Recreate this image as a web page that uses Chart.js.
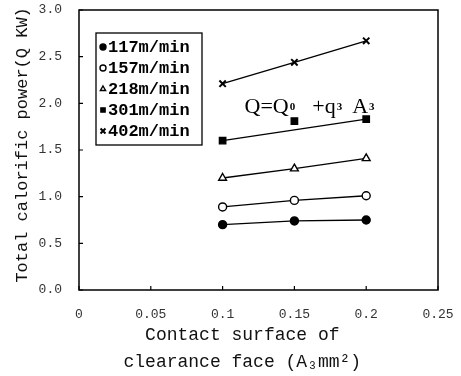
<!DOCTYPE html>
<html>
<head>
<meta charset="utf-8">
<script src="https://cdn.jsdelivr.net/npm/chart.js@4.4.0/dist/chart.umd.min.js"></script>
<style>
  html, body { margin: 0; padding: 0; background: #fff; }
  #wrap { width: 461px; height: 376px; }
</style>
</head>
<body>
<div id="wrap"><canvas id="chart"></canvas></div>
<script>
// contact surface of clearance face (mm^2)
const surfaces = [0.1, 0.15, 0.2];
const speeds = ['117m/min', '157m/min', '218m/min', '301m/min', '402m/min'];

// total calorific power (kW) per cutting speed
const power117 = [0.70, 0.74, 0.75];
const power157 = [0.89, 0.96, 1.01];
const power218 = [1.20, 1.30, 1.41];
const power301 = [1.60, 1.81, 1.83];
const power402 = [2.21, 2.44, 2.67];

// the 301 m/min line is a fit that skips the middle point
const fit301X = [0.1, 0.2];
const fit301Y = [1.60, 1.83];

const xTickLabels = ['0', '0.05', '0.1', '0.15', '0.2', '0.25'];
const yTickLabels = ['0.0', '0.5', '1.0', '1.5', '2.0', '2.5', '3.0'];

const toPoints = (xs, ys) => xs.map((x, i) => ({ x: x, y: ys[i] }));

function series(label, values, style, fill, radius, showLine) {
    return {
        label: label,
        data: toPoints(surfaces, values),
        borderColor: '#000',
        borderWidth: 1.3,
        pointStyle: style,
        pointRadius: radius,
        pointBorderWidth: style === 'crossRot' ? 2 : 1.4,
        pointBackgroundColor: fill,
        pointBorderColor: '#000',
        showLine: showLine,
        inLegend: true
    };
}

const datasets = [
    series(speeds[0], power117, 'circle', '#000', 4, true),
    series(speeds[1], power157, 'circle', '#fff', 4, true),
    series(speeds[2], power218, 'triangle', '#fff', 4.5, true),
    series(speeds[3], power301, 'rect', '#000', 4.5, false),
    series(speeds[4], power402, 'crossRot', '#000', 4.5, true),
    {
        label: 'fit301',
        data: toPoints(fit301X, fit301Y),
        borderColor: '#000',
        borderWidth: 1.3,
        pointRadius: 0,
        inLegend: false
    }
];

// drop the extra room chart.js keeps for edge tick labels
function noEdgePadding(scale) {
    scale.paddingTop = 0;
    scale.paddingBottom = 0;
    scale.paddingLeft = 0;
    scale.paddingRight = 0;
}

// box round the plot, plus short inward ticks
const framePlugin = {
    id: 'frame',
    afterDraw(chart) {
        const ctx = chart.ctx;
        const a = chart.chartArea;
        ctx.save();
        ctx.strokeStyle = '#000';
        ctx.lineWidth = 1.5;
        ctx.strokeRect(a.left, a.top, a.right - a.left, a.bottom - a.top);
        ctx.lineWidth = 1.2;
        const xs = chart.scales.x, ys = chart.scales.y;
        ctx.beginPath();
        xs.ticks.forEach(t => {
            const px = xs.getPixelForValue(t.value);
            ctx.moveTo(px, a.bottom);
            ctx.lineTo(px, a.bottom - 4);
        });
        ys.ticks.forEach(t => {
            const py = ys.getPixelForValue(t.value);
            ctx.moveTo(a.left, py);
            ctx.lineTo(a.left + 4, py);
        });
        ctx.stroke();
        ctx.restore();
    }
};

// legend box inside the plot
const legendBoxPlugin = {
    id: 'legendBox',
    afterDraw(chart) {
        const ctx = chart.ctx;
        const a = chart.chartArea;
        const left = a.left + 17, top = a.top + 23;
        const w = 106, h = 112;
        ctx.save();
        ctx.fillStyle = '#fff';
        ctx.fillRect(left, top, w, h);
        ctx.strokeStyle = '#000';
        ctx.lineWidth = 1.3;
        ctx.strokeRect(left, top, w, h);
        ctx.font = 'bold 17px "Liberation Mono", monospace';
        ctx.textBaseline = 'middle';
        let row = 0;
        chart.data.datasets.forEach(ds => {
            if (!ds.inLegend) return;
            const cy = top + 14 + row * 21;
            ctx.fillStyle = ds.pointBackgroundColor;
            ctx.strokeStyle = '#000';
            ctx.lineWidth = ds.pointBorderWidth;
            Chart.helpers.drawPoint(ctx, {
                pointStyle: ds.pointStyle,
                radius: ds.pointStyle === 'crossRot' ? 3.5 : 3,
                borderWidth: ds.pointBorderWidth,
                rotation: 0
            }, left + 7, cy);
            ctx.fillStyle = '#000';
            ctx.fillText(ds.label, left + 12, cy + 1);
            row++;
        });
        ctx.restore();
    }
};

// formula text: Q=Q0 +q3 A3
const formulaPlugin = {
    id: 'formula',
    afterDraw(chart) {
        const ctx = chart.ctx;
        let x = chart.scales.x.getPixelForValue(0.1153);
        const y = chart.scales.y.getPixelForValue(1.9);
        const big = '22px "Liberation Serif", serif';
        const small = 'bold 11px "Liberation Serif", serif';
        const parts = [['Q=Q', big, 0, 1], ['0', small, -3, 17], ['+q', big, 0, 1], ['3', small, -3, 10], ['A', big, 0, 1], ['3', small, -3, 0]];
        ctx.save();
        ctx.fillStyle = '#000';
        ctx.textBaseline = 'alphabetic';
        parts.forEach(p => {
            ctx.font = p[1];
            ctx.fillText(p[0], x, y + p[2]);
            x += ctx.measureText(p[0]).width + p[3];
        });
        ctx.restore();
    }
};

new Chart(document.getElementById('chart'), {
    type: 'line',
    data: { datasets: datasets },
    options: {
        responsive: true,
        maintainAspectRatio: false,
        animation: false,
        layout: { padding: { top: 10, right: 23, left: 0, bottom: 0 } },
        plugins: {
            legend: { display: false },
            tooltip: { enabled: false }
        },
        scales: {
            x: {
                type: 'linear',
                min: 0,
                max: 0.25,
                afterFit(scale) { scale.height = 86; noEdgePadding(scale); },
                afterBuildTicks(scale) {
                    scale.ticks = xTickLabels.map(t => ({ value: parseFloat(t) }));
                },
                ticks: {
                    padding: 9,
                    color: '#333',
                    font: { family: 'Liberation Mono', size: 13 },
                    callback: (v, i) => xTickLabels[i]
                },
                grid: { display: false },
                border: { display: false },
                title: {
                    display: true,
                    text: ['Contact surface of   ', 'clearance face (A\u2083mm\u00b2)   '],
                    color: '#111',
                    font: { family: 'Liberation Mono', size: 18, lineHeight: 1.5 },
                    padding: { top: 0, bottom: 0 }
                }
            },
            y: {
                min: 0,
                max: 3,
                afterFit(scale) { scale.width = 79; noEdgePadding(scale); },
                afterBuildTicks(scale) {
                    scale.ticks = yTickLabels.map(t => ({ value: parseFloat(t) }));
                },
                ticks: {
                    padding: 17,
                    color: '#333',
                    font: { family: 'Liberation Mono', size: 13 },
                    callback: (v, i) => yTickLabels[i]
                },
                grid: { display: false, drawTicks: false },
                border: { display: false },
                title: {
                    display: true,
                    text: ' Total calorific power(Q KW)',
                    color: '#111',
                    font: { family: 'Liberation Mono', size: 17, lineHeight: 1.2 },
                    padding: { top: 12, bottom: 0 }
                }
            }
        }
    },
    plugins: [framePlugin, legendBoxPlugin, formulaPlugin]
});
</script>
</body>
</html>
